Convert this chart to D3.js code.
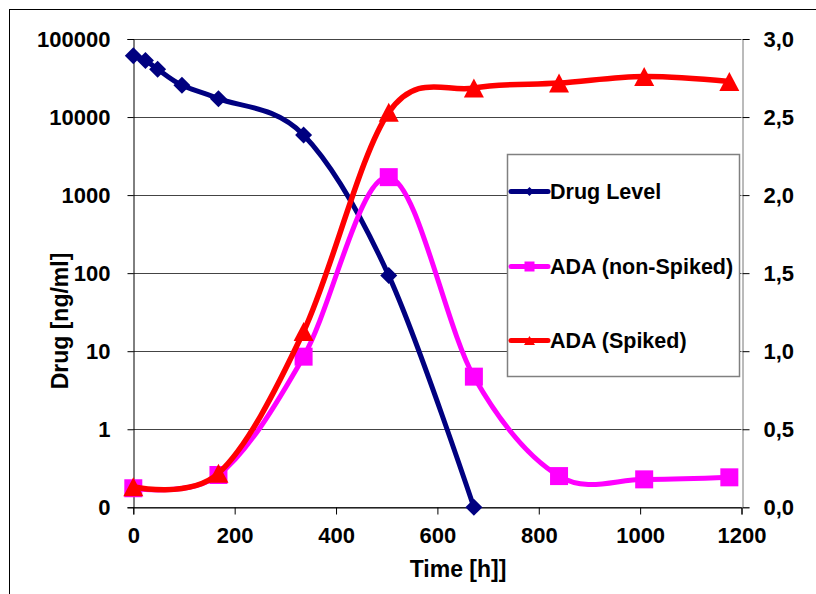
<!DOCTYPE html>
<html><head><meta charset="utf-8">
<script src="https://cdn.jsdelivr.net/npm/d3@7"></script>
<style>
html,body{margin:0;padding:0;background:#fff;}
svg{display:block;}
text{font-family:"Liberation Sans",Arial,sans-serif;font-weight:bold;fill:#000;}
</style></head>
<body>
<svg id="chart" width="816" height="594"></svg>
<script>
// ---- data ----
const drugTimes = [0, 24, 48, 96, 168, 336, 504, 672];
const drugLevel = [61000, 53000, 41000, 25500, 17200, 5900, 93, 0.1];
const adaTimes = [0, 168, 336, 504, 672, 840, 1008, 1176];
const adaNonSpiked = [0.122, 0.207, 0.965, 2.115, 0.837, 0.200, 0.179, 0.192];
const adaSpiked = [0.132, 0.218, 1.126, 2.530, 2.686, 2.718, 2.760, 2.728];
const xTicks = [0, 200, 400, 600, 800, 1000, 1200];
const leftTicks = [0.1, 1, 10, 100, 1000, 10000, 100000];
const leftTickLabels = ["0", "1", "10", "100", "1000", "10000", "100000"];
const rightTicks = [0, 0.5, 1, 1.5, 2, 2.5, 3];
const rightTickLabels = ["0,0", "0,5", "1,0", "1,5", "2,0", "2,5", "3,0"];
const seriesNames = ["Drug Level", "ADA (non-Spiked)", "ADA (Spiked)"];
const xTitle = "Time [h]]";
const yTitle = "Drug [ng/ml]";

// ---- layout ----
const L = 133.3, R = 741.5, T = 39, B = 507.3;
const svg = d3.select("#chart");
const x = d3.scaleLinear().domain([0, 1200]).range([L, R]);
const yL = d3.scaleLog().domain([0.1, 100000]).range([B, T]);
const yR = d3.scaleLinear().domain([0, 3]).range([B, T]);

// outer frame
svg.append("rect").attr("x", 9.5).attr("y", 9.5).attr("width", 830).attr("height", 600)
  .attr("fill", "none").attr("stroke", "#000").attr("stroke-width", 1);

// gridlines
svg.append("g").selectAll("line").data(leftTicks).join("line")
  .attr("x1", L).attr("x2", R)
  .attr("y1", d => Math.round(yL(d)) + 0.5).attr("y2", d => Math.round(yL(d)) + 0.5)
  .attr("stroke", "#444").attr("stroke-width", 1);

// left axis
const gl = svg.append("g").attr("transform", `translate(${Math.round(L) + 0.5},0)`)
  .call(d3.axisLeft(yL).tickValues(leftTicks).tickFormat((d, i) => leftTickLabels[i]).tickSize(6).tickPadding(17));
gl.select(".domain").attr("stroke", "#000");
gl.selectAll(".tick line").attr("stroke", "#000");
gl.selectAll(".tick text").style("font-size", "22px").style("font-family", "'Liberation Sans',Arial,sans-serif").style("font-weight", "bold").attr("fill", "#000");

// right axis
const gr = svg.append("g").attr("transform", `translate(${Math.round(R) + 0.5},0)`)
  .call(d3.axisRight(yR).tickValues(rightTicks).tickFormat((d, i) => rightTickLabels[i]).tickSize(7).tickPadding(14));
gr.select(".domain").attr("stroke", "#777");
gr.selectAll(".tick line").attr("stroke", "#000");
gr.selectAll(".tick text").style("font-size", "22px").style("font-family", "'Liberation Sans',Arial,sans-serif").style("font-weight", "bold").attr("fill", "#000");

// bottom axis
const gb = svg.append("g").attr("transform", `translate(0,${Math.round(B) + 0.5})`)
  .call(d3.axisBottom(x).tickValues(xTicks).tickFormat(d3.format("d")).tickSize(7).tickPadding(13));
gb.select(".domain").attr("stroke", "#000");
gb.selectAll(".tick line").attr("stroke", "#000");
gb.selectAll(".tick text").style("font-size", "22px").style("font-family", "'Liberation Sans',Arial,sans-serif").style("font-weight", "bold").attr("fill", "#000");
svg.selectAll(".domain").attr("d", function(){ return d3.select(this).attr("d").replace(/[MV]-?\d+(\.\d+)?,/g, m=>m); });

// titles
svg.append("text").attr("x", 458).attr("y", 577).attr("text-anchor", "middle")
  .style("font-size", "23px").text(xTitle);
svg.append("text").attr("transform", "translate(68,321) rotate(-90)").attr("text-anchor", "middle")
  .style("font-size", "23px").text(yTitle);

// series
const curve = d3.curveCardinal.tension(0);
const drugPts = drugTimes.map((t, i) => [x(t), yL(drugLevel[i])]);
const nonPts = adaTimes.map((t, i) => [x(t), yR(adaNonSpiked[i])]);
const spkPts = adaTimes.map((t, i) => [x(t), yR(adaSpiked[i])]);
const line = d3.line().curve(curve);

const colors = ["#000080", "#FF00FF", "#FF0000"];
function diamond(s) { return `M0,${-s}L${s},0L0,${s}L${-s},0Z`; }
function square(s) { return `M${-s},${-s}H${s}V${s}H${-s}Z`; }
function triangle(w, h) { return `M0,${-h/2}L${w/2},${h/2}L${-w/2},${h/2}Z`; }

svg.append("path").attr("d", line(drugPts)).attr("fill", "none").attr("stroke", colors[0]).attr("stroke-width", 5).attr("stroke-linejoin", "round");
svg.append("g").selectAll("path").data(drugPts).join("path")
  .attr("transform", d => `translate(${d[0]},${d[1]})`).attr("d", diamond(8.5)).attr("fill", colors[0]);

svg.append("path").attr("d", line(nonPts)).attr("fill", "none").attr("stroke", colors[1]).attr("stroke-width", 5).attr("stroke-linejoin", "round");
svg.append("g").selectAll("path").data(nonPts).join("path")
  .attr("transform", d => `translate(${d[0]},${d[1]})`).attr("d", square(9)).attr("fill", colors[1]);

svg.append("path").attr("d", line(spkPts)).attr("fill", "none").attr("stroke", colors[2]).attr("stroke-width", 5.5).attr("stroke-linejoin", "round");
svg.append("g").selectAll("path").data(spkPts).join("path")
  .attr("transform", d => `translate(${d[0]},${d[1]})`).attr("d", triangle(20, 19)).attr("fill", colors[2]);

// legend
const lg = svg.append("g");
lg.append("rect").attr("x", 507.5).attr("y", 154.5).attr("width", 232).attr("height", 222)
  .attr("fill", "#fff").attr("stroke", "#808080").attr("stroke-width", 1.5);
const legY = [191.5, 266.5, 340.5];
const legMarkers = [diamond(4.5), square(5), triangle(11, 9)];
seriesNames.forEach((name, i) => {
  lg.append("line").attr("x1", 511).attr("x2", 548).attr("y1", legY[i]).attr("y2", legY[i])
    .attr("stroke", colors[i]).attr("stroke-width", 5).attr("stroke-linecap", "round");
  lg.append("path").attr("transform", `translate(529.5,${legY[i]})`).attr("d", legMarkers[i]).attr("fill", colors[i]);
  lg.append("text").attr("x", 550).attr("y", legY[i]).attr("dy", "0.36em")
    .style("font-size", "21.5px").text(name);
});
</script>
</body></html>
